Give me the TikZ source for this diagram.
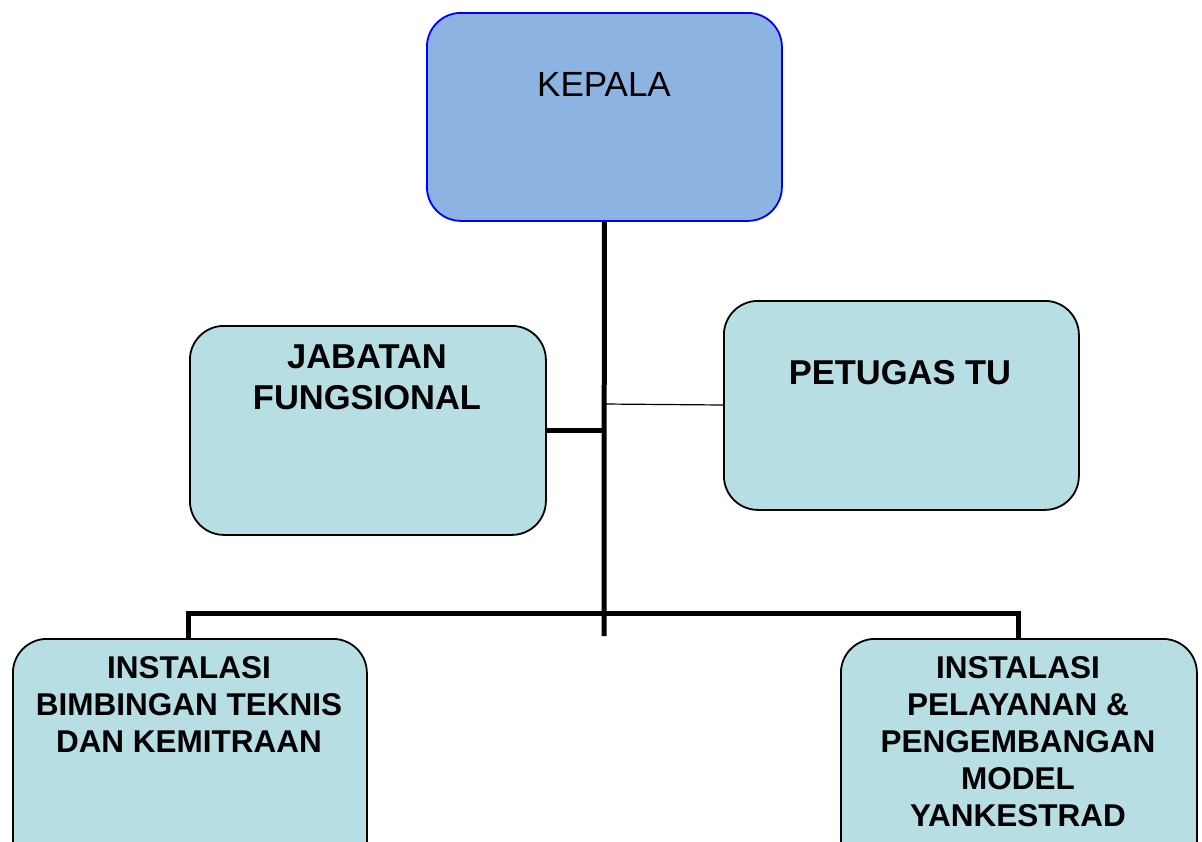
\documentclass[tikz,border=0pt]{standalone}
\usepackage{fontspec}
\setmainfont{Liberation Sans}
\definecolor{kepfill}{HTML}{8DB3E2}
\definecolor{unitfill}{HTML}{B7DEE3}
\begin{document}
\begin{tikzpicture}[x=1pt,y=-1pt,
  unitbox/.style={draw=black, line width=1.8pt, fill=unitfill, rounded corners=34pt, inner sep=0pt, anchor=north west},
  headbox/.style={draw=blue, line width=1.8pt, fill=kepfill, rounded corners=34pt, inner sep=0pt, anchor=north west},
  txt/.style={inner sep=0pt, anchor=north, align=center},
  thick line/.style={line width=5pt},
  thin line/.style={line width=1.2pt}
]
\useasboundingbox (0,0) rectangle (1202,841);
\clip (0,0) rectangle (1202,841);
\fill[white] (0,0) rectangle (1202,841);
% boxes
\node[headbox, minimum width=355pt, minimum height=208pt] (kep) at (426,12) {};
\node[txt, font=\fontsize{35}{40}\selectfont] (kept) at (604,72.5) {KEPALA};
\node[unitbox, minimum width=356pt, minimum height=209pt] (jab) at (189,325) {};
\node[txt, font=\bfseries\fontsize{34.5}{41}\selectfont] (jabt) at (367,345) {JABATAN\\FUNGSIONAL};
\node[unitbox, minimum width=355pt, minimum height=209pt] (tu) at (723,300) {};
\node[txt, font=\bfseries\fontsize{34.5}{41}\selectfont] (tut) at (900,360) {PETUGAS TU};
\node[unitbox, minimum width=354pt, minimum height=260pt] (bim) at (12,638) {};
\node[txt, font=\bfseries\fontsize{31.5}{37}\selectfont] (bimt) at (189,656) {INSTALASI\\BIMBINGAN TEKNIS\\DAN KEMITRAAN};
\node[unitbox, minimum width=356pt, minimum height=260pt] (pel) at (840,638) {};
\node[txt, font=\bfseries\fontsize{31.5}{37}\selectfont] (pelt) at (1018,656) {INSTALASI\\PELAYANAN \&\\PENGEMBANGAN\\MODEL\\YANKESTRAD};
% connectors
\coordinate (stemEnd) at (604,636);
\coordinate (jabJoin) at (604,430);
\coordinate (tuJoin) at (604,404);
\coordinate (busL) at (188,613);
\coordinate (busR) at (1018,613);
\draw[thick line] (kep.south) -- (stemEnd);
\draw[thick line] (jab.east |- jabJoin) -- (jabJoin);
\draw[thin line] (tuJoin) -- (tu.west |- 0,405);
\draw[thick line, line join=miter] (bim.north -| busL) -- (busL) -- (busR) -- (pel.north -| busR);
\end{tikzpicture}
\end{document}
